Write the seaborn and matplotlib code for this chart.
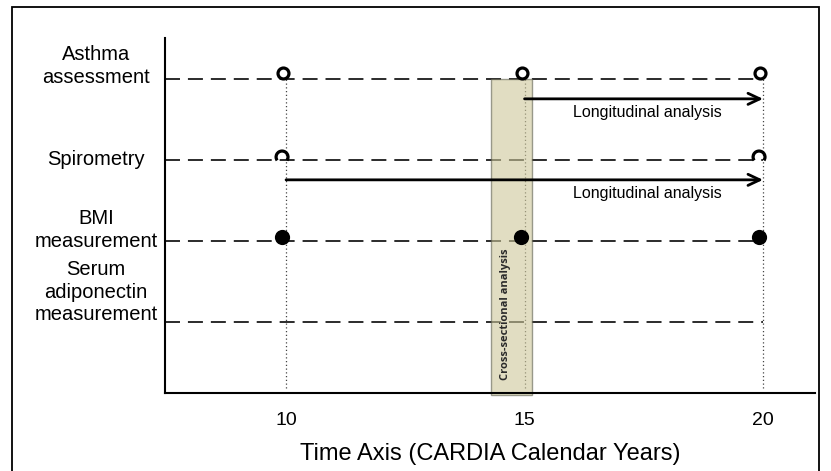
import matplotlib
matplotlib.use("Agg")
import matplotlib.pyplot as plt
import matplotlib.transforms as mtransforms
from matplotlib.path import Path
from matplotlib.patches import Rectangle
import pandas as pd
import seaborn as sns

# =========================================
# Data
# =========================================

measures = ["Asthma\nassessment", "Spirometry", "BMI\nmeasurement",
            "Serum\nadiponectin\nmeasurement"]
rows = [4, 3, 2, 1]

exam_years = [10, 15, 20]
asthma_years = [10, 15, 20]
spiro_years = [10, 20]
bmi_years = [10, 15, 20]

cross_section_span = (14.30, 15.16)
asthma_long = (15, 20)
spiro_long = (10, 20)

x_label = "Time Axis (CARDIA Calendar Years)"
cross_label = "Cross-sectional analysis"
long_label = "Longitudinal analysis"

# =========================================
# Figure
# =========================================

sns.set_style("white")
plt.rcParams['font.family'] = ['Liberation Sans', 'DejaVu Sans']
plt.rcParams['text.color'] = 'black'
plt.rcParams['xtick.color'] = 'black'
plt.rcParams['axes.labelcolor'] = 'black'

fig = plt.figure(figsize=(8.31, 4.71), dpi=100)
ax = fig.add_axes([0.1986, 0.1656, 0.7822, 0.7537])
ax.set_xlim(7.463, 21.09)
ax.set_ylim(0.1235, 4.506)


def shifted(dx, dy):
    # small pixel offset for markers sitting on the lines
    return ax.transData + mtransforms.ScaledTranslation(
        dx / 100, dy / 100, fig.dpi_scale_trans)


# dashed row lines
x_left = ax.get_xlim()[0]
for y in rows:
    ax.plot([x_left, exam_years[-1]], [y, y], color='#1a1a1a',
            lw=1.3, dashes=(8.3, 4.4), zorder=1)

# dotted exam lines
for x in exam_years:
    ax.plot([x, x], [0.18, rows[0]], color='#444444', lw=0.9,
            ls=(0, (1, 2)), zorder=1)

# cross-sectional band
x0, x1 = cross_section_span
ax.add_patch(Rectangle((x0, 0.1), x1 - x0, rows[0] - 0.1,
                       facecolor='#cdc79a', alpha=0.6,
                       edgecolor='#5f5f50', lw=1, zorder=2, clip_on=False))
ax.text((x0 + x1) / 2 - 0.12, 1.1, cross_label, rotation=90,
        ha='center', va='center', fontsize=8, fontweight='bold',
        family=['Open Sans', 'DejaVu Sans'], color='#2a2a2a', zorder=3)

# markers
asthma_df = pd.DataFrame({'year': asthma_years, 'row': rows[0]})
spiro_df = pd.DataFrame({'year': spiro_years, 'row': rows[1]})
bmi_df = pd.DataFrame({'year': bmi_years, 'row': rows[2]})

sns.scatterplot(data=asthma_df, x='year', y='row', ax=ax, marker='o',
                s=62, color='white', edgecolor='black', linewidth=2.3,
                zorder=5, transform=shifted(-3, 6), legend=False)

arc = Path.arc(-35, 215)
sns.scatterplot(data=spiro_df, x='year', y='row', ax=ax, marker=arc,
                s=75, facecolor='none', edgecolor='black', linewidth=2.3,
                zorder=5, transform=shifted(-4, 3), legend=False)

sns.scatterplot(data=bmi_df, x='year', y='row', ax=ax, marker='o',
                s=120, color='black', linewidth=0,
                zorder=5, transform=shifted(-4, 4), legend=False)

# longitudinal arrows
for (a, b), y in [(asthma_long, rows[0]), (spiro_long, rows[1])]:
    ax.annotate('', xy=(b, y - 0.245), xytext=(a, y - 0.245),
                arrowprops=dict(arrowstyle='->, head_length=0.85, head_width=0.4',
                                lw=2, color='black', shrinkA=0, shrinkB=0),
                zorder=4)
    ax.text(17.58, y - 0.41, long_label, ha='center', va='center',
            fontsize=11.5, zorder=4)

# row labels
label_dy = [13, 0, 11, 30]
for name, y, dy in zip(measures, rows, label_dy):
    ax.annotate(name, xy=(0, y), xycoords=('axes fraction', 'data'),
                xytext=(-69, dy), textcoords='offset pixels',
                ha='center', va='center', multialignment='center',
                fontsize=14.5, linespacing=1.25, annotation_clip=False)

# axes styling
ax.set_yticks([])
ax.set_ylabel('')
ax.set_xticks(exam_years)
ax.set_xticklabels([str(v) for v in exam_years], fontsize=14)
ax.tick_params(axis='x', length=0, pad=14)
ax.set_xlabel(x_label, fontsize=17, labelpad=10)

sns.despine(ax=ax)
for side in ['left', 'bottom']:
    ax.spines[side].set_color('black')
    ax.spines[side].set_linewidth(1.5)

# outer frame
fig.patches.append(Rectangle((12 / 831, -0.02), (819 - 12) / 831,
                             1 - 7 / 471 + 0.02, transform=fig.transFigure,
                             fill=False, lw=1.3, ec='black'))

fig.savefig('out.png', dpi=100)
